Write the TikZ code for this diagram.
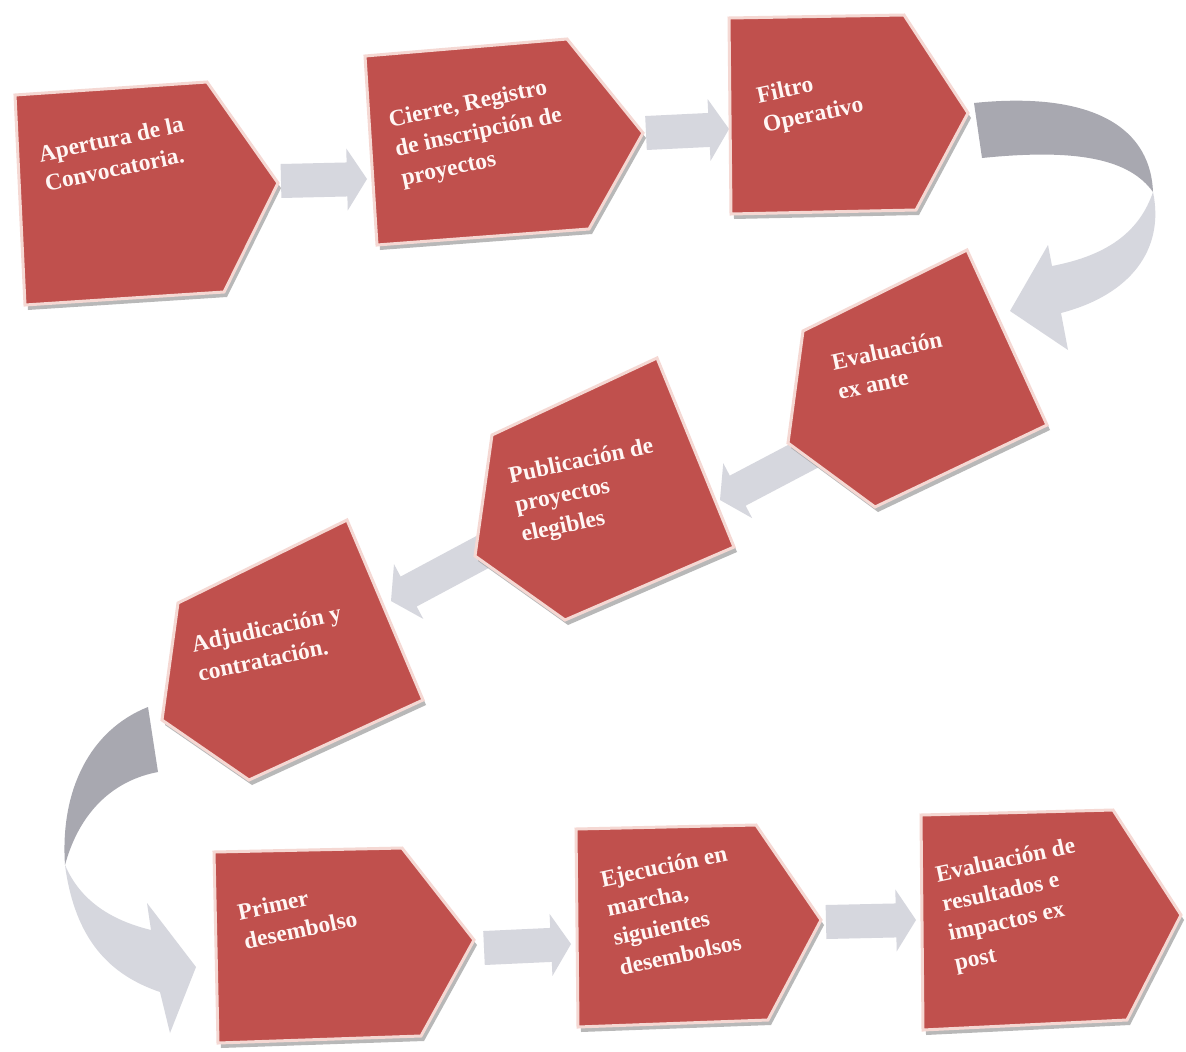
\documentclass[tikz,border=0pt]{standalone}
\usepackage{fontspec}
\setmainfont{Liberation Serif}
\usetikzlibrary{calc}
\definecolor{stepred}{HTML}{C0504D}
\definecolor{stepedge}{HTML}{F5D8D3}
\definecolor{arrowlight}{HTML}{D6D7DE}
\definecolor{arrowdark}{HTML}{A8A8B0}
\definecolor{shadowc}{HTML}{9A9A9A}
\definecolor{steptextc}{HTML}{FFF6F4}
\tikzset{
  shapebody/.style={fill=stepred, draw=stepedge, line width=3pt, line join=miter},
  shapeshadow/.style={fill=shadowc, opacity=0.7},
  steptext/.style={text=steptextc, font=\bfseries\fontsize{23.5}{30}\selectfont, align=left,
    rotate=12, anchor=north west, inner sep=0pt},
  curvedark/.style={fill=arrowdark},
  curvelight/.style={fill=arrowlight}
}
\newcommand\stepshape[1]{%
  \begin{scope}[shift={(3,5)}]\fill[shapeshadow] #1 -- cycle;\end{scope}
  \filldraw[shapebody] #1 -- cycle;}
\newcommand\blockarr[2]{%
  \coordinate (#1h) at ($(#2)!20pt!(#1)$);
  \fill[arrowlight] ($(#1)!17pt!90:(#2)$) -- ($(#1h)!17pt!-90:(#1)$) -- ($(#1h)!31pt!-90:(#1)$)
    -- (#2) -- ($(#1h)!31pt!90:(#1)$) -- ($(#1h)!17pt!90:(#1)$) -- ($(#1)!17pt!-90:(#2)$) -- cycle;}
\begin{document}
\begin{tikzpicture}[x=1pt,y=-1pt]
\useasboundingbox (0,0) rectangle (1186,1052);
\fill[white] (0,0) rectangle (1186,1052);

% arrow end coordinates
\coordinate (a12s) at (281,181); \coordinate (a12e) at (367,179);
\coordinate (a23s) at (646,133); \coordinate (a23e) at (729,129);
\coordinate (a45s) at (815,450); \coordinate (a45e) at (720,500);
\coordinate (a56s) at (490,548); \coordinate (a56e) at (391,601);
\coordinate (a78s) at (484,948); \coordinate (a78e) at (571,944);
\coordinate (a89s) at (826,922); \coordinate (a89e) at (916,920);

% straight block arrows
\blockarr{a12s}{a12e}
\blockarr{a23s}{a23e}
\blockarr{a45s}{a45e}
\blockarr{a56s}{a56e}
\blockarr{a78s}{a78e}
\blockarr{a89s}{a89e}

% curved arrow Filtro -> Evaluacion ex ante
\fill[curvedark] (974,103) .. controls (1080,92) and (1150,120) .. (1153,192)
  .. controls (1130,160) and (1080,148) .. (982,158) -- cycle;
\fill[curvelight] (1153,192) .. controls (1165,250) and (1130,295) .. (1061,313)
  -- (1068,350) -- (1010,311) -- (1048,245) -- (1052,266)
  .. controls (1110,255) and (1140,230) .. (1153,192) -- cycle;

% curved arrow Adjudicacion -> Primer desembolso
\fill[curvedark] (148,707) .. controls (90,730) and (60,790) .. (65,865)
  .. controls (80,810) and (115,780) .. (158,772) -- cycle;
\fill[curvelight] (65,865) .. controls (75,940) and (110,975) .. (160,992)
  -- (170,1033) -- (196,967) -- (147,903) -- (151,930)
  .. controls (110,920) and (80,900) .. (65,865) -- cycle;

% step shapes
\stepshape{(15,95) -- (207,82) -- (278,183) -- (224,292) -- (25,305)}
\stepshape{(365,56) -- (567,39) -- (643,133) -- (589,229) -- (377,245)}
\stepshape{(729,18) -- (904,15) -- (968,113) -- (916,210) -- (731,214)}
\stepshape{(967,250) -- (803,331) -- (788,443) -- (875,507) -- (1047,425)}
\stepshape{(657,358) -- (492,435) -- (475,556) -- (565,620) -- (734,547)}
\stepshape{(347,520) -- (178,603) -- (162,720) -- (249,780) -- (423,700)}
\stepshape{(214,852) -- (402,848) -- (474,940) -- (421,1036) -- (218,1043)}
\stepshape{(576,829) -- (756,825) -- (821,920) -- (768,1020) -- (578,1027)}
\stepshape{(921,815) -- (1113,810) -- (1181,915) -- (1127,1020) -- (923,1030)}

% texts
\node[steptext] (t1) at (37,146) {Apertura de la\\Convocatoria.};
\node[steptext] (t2) at (387,111) {Cierre, Registro\\de inscripción de\\proyectos};
\node[steptext] (t3) at (755,87) {Filtro\\Operativo};
\node[steptext] (t4) at (830,354) {Evaluación\\ex ante};
\node[steptext] (t5) at (507,467) {Publicación de\\proyectos\\elegibles};
\node[steptext] (t6) at (190,636) {Adjudicación y\\contratación.};
\node[steptext] (t7) at (236,904) {Primer\\desembolso};
\node[steptext] (t8) at (599,871) {Ejecución en\\marcha,\\siguientes\\desembolsos};
\node[steptext] (t9) at (934,866) {Evaluación de\\resultados e\\impactos ex\\post};
\end{tikzpicture}
\end{document}
